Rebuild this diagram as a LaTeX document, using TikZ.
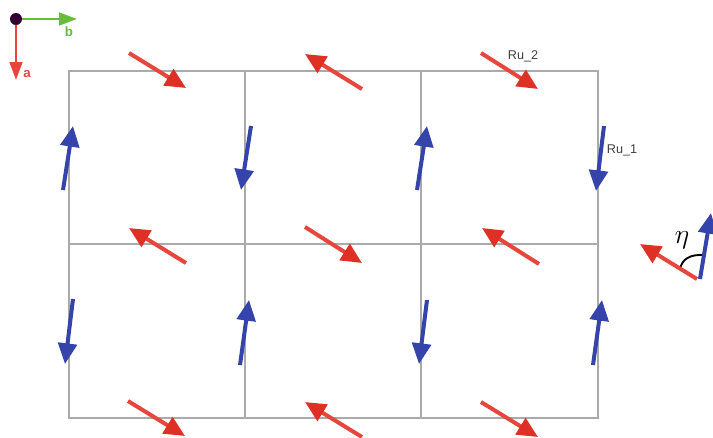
\documentclass[tikz,border=0pt]{standalone}
\usepackage{fontspec}
\setmainfont{Liberation Sans}
\usetikzlibrary{arrows.meta}
\definecolor{rured}{RGB}{222,48,36}
\definecolor{ruedge}{RGB}{230,70,60}
\definecolor{rublue}{RGB}{52,68,170}
\definecolor{axgreen}{RGB}{100,190,60}
\definecolor{axred}{RGB}{232,70,60}
\definecolor{gridgray}{RGB}{170,170,170}
\tikzset{
  redspin/.style={draw=ruedge,line width=3pt,-{Triangle[length=15.5pt,width=14pt,color=rured]}},
  bluespin/.style={draw=rublue,line width=3pt,-{Triangle[length=15.5pt,width=14pt,color=rublue]}},
  gridline/.style={draw=gridgray,line width=1.3pt},
  axisarrow/.style={line width=1.9pt,-{Triangle[length=13.5pt,width=9.5pt]}},
  lbl/.style={font=\fontsize{9.5pt}{11pt}\selectfont,text=black!75,inner sep=0pt}
}
\begin{document}
\begin{tikzpicture}[x=0.75pt,y=-0.75pt]
\useasboundingbox (0,0) rectangle (713,437);
\begin{scope}
\clip (0,0) rectangle (713,437);
% grid
\draw[gridline] (69,71) rectangle (598,418);
\draw[gridline] (245,71) -- (245,418);
\draw[gridline] (421,71) -- (421,418);
\draw[gridline] (69,244) -- (598,244);
% axes
\coordinate (o) at (16,19);
\coordinate (aend) at (16,80);
\coordinate (bend) at (77,19);
\draw[axisarrow,draw=axred!85,color=axred] (o) -- (aend);
\draw[axisarrow,draw=axgreen,color=axgreen] (o) -- (bend);
\node[circle,fill=black!60!violet,minimum size=9pt,inner sep=0pt] (origin) at (o) {};
\node[font=\fontsize{10pt}{11pt}\selectfont\bfseries,text=axred,inner sep=0pt] (alabel) at (27,74) {a};
\node[font=\fontsize{10pt}{11pt}\selectfont\bfseries,text=axgreen,inner sep=0pt] (blabel) at (69,32) {b};
% red spins
\foreach \xa/\ya/\xb/\yb in {129/53/186/88, 362/89/305/54, 481/53/538/89,
  186/263/129/228, 305/227/362/263, 539/264/482/228,
  128/401/185/436, 362/437/305/402, 481/402/538/437}
  \draw[redspin] (\xa,\ya) -- (\xb,\yb);
% blue spins
\foreach \xa/\ya/\xb/\yb in {63/190/73/126, 251/126/241/190, 417/190/427/126, 604/126/596/191,
  73/299/65/364, 240/365/249/300, 427/300/419/364, 593/365/602/300}
  \draw[bluespin] (\xa,\ya) -- (\xb,\yb);
% angle inset
\draw[line width=1.4pt,black] (680,269) .. controls (682,259) and (690,254) .. (705,255);
\draw[redspin] (697,279) -- (640,244);
\draw[bluespin] (700,279) -- (711,213);
\end{scope}
\node[lbl] (ru2) at (523,56) {Ru\_2};
\node[lbl] (ru1) at (622,150) {Ru\_1};
\node[font=\fontsize{22pt}{24pt}\selectfont,inner sep=0pt] (eta) at (682,240) {$\eta$};
\end{tikzpicture}
\end{document}
